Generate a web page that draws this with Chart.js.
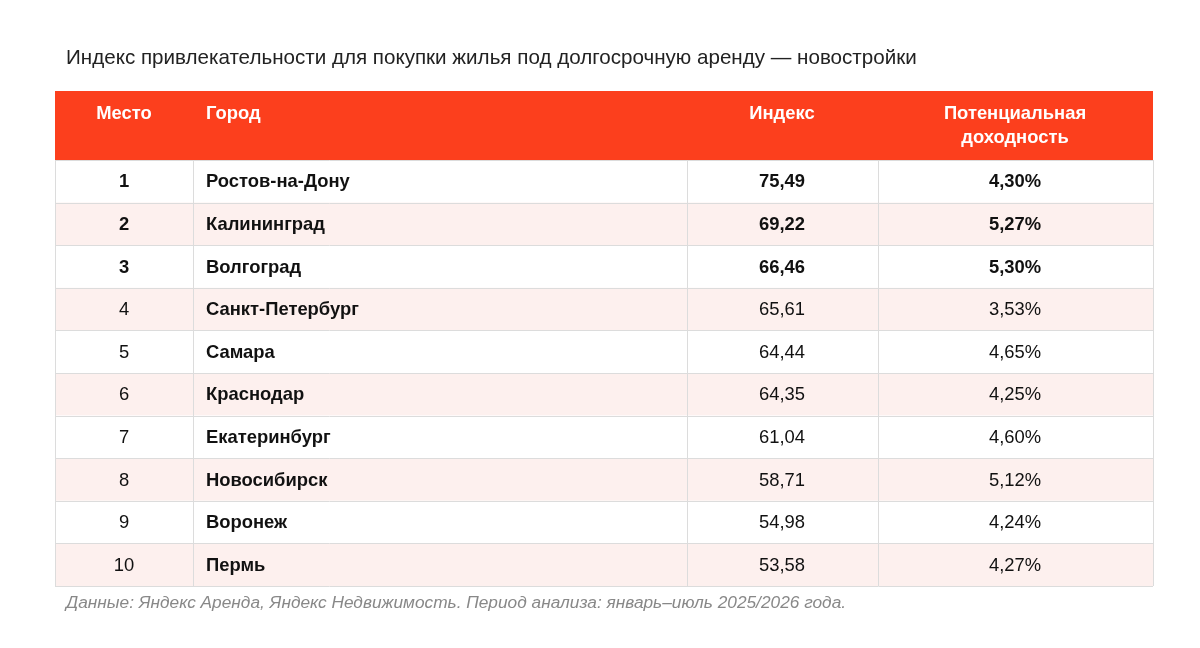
<!DOCTYPE html>
<html><head><meta charset="utf-8">
<script src="https://cdn.jsdelivr.net/npm/chart.js@4"></script>
<style>html,body{margin:0;padding:0;background:#fff}</style>
</head><body>
<canvas id="c" width="1200" height="648"></canvas>
<script>
const titleText = "Индекс привлекательности для покупки жилья под долгосрочную аренду — новостройки";
const footerText = "Данные: Яндекс Аренда, Яндекс Недвижимость. Период анализа: январь–июль 2025/2026 года.";
const headers = ["Место", "Город", "Индекс", ["Потенциальная", "доходность"]];
const places = ["1","2","3","4","5","6","7","8","9","10"];
const cities = ["Ростов-на-Дону","Калининград","Волгоград","Санкт-Петербург","Самара","Краснодар","Екатеринбург","Новосибирск","Воронеж","Пермь"];
const indexValues = [75.49,69.22,66.46,65.61,64.44,64.35,61.04,58.71,54.98,53.58];
const yieldValues = [4.30,5.27,5.30,3.53,4.65,4.25,4.60,5.12,4.24,4.27];
const boldRows = 3;

const fmt = (v,d)=>v.toFixed(d).replace('.',',');
const F = '"Liberation Sans", Arial, sans-serif';

const tablePlugin = {
  id:'table',
  beforeDraw(chart){
    const ctx = chart.ctx, ca = chart.chartArea, y = chart.scales.y;
    const L = ca.left, R = ca.right;
    const cols = [L, 193, 687, 878, R];
    const band = (ca.bottom - ca.top)/cities.length;
    ctx.save();
    ctx.fillStyle='#fff'; ctx.fillRect(0,0,chart.width,chart.height);
    ctx.fillStyle='#222'; ctx.font='20.6px '+F; ctx.textBaseline='middle'; ctx.textAlign='left';
    ctx.fillText(titleText, 66, 58);
    ctx.fillStyle='#fc3f1d'; ctx.fillRect(L, 91, R-L, ca.top-91);
    ctx.fillStyle='#fff'; ctx.font='bold 18.4px '+F;
    ctx.textAlign='center'; ctx.fillText(headers[0], 124, 114);
    ctx.textAlign='left'; ctx.fillText(headers[1], 206, 114);
    ctx.textAlign='center'; ctx.fillText(headers[2], 782, 114);
    ctx.fillText(headers[3][0], 1015, 114); ctx.fillText(headers[3][1], 1015, 138);
    cities.forEach((c,i)=>{
      const cy = y.getPixelForValue(i);
      ctx.fillStyle = i%2 ? '#fdf0ee' : '#fff';
      ctx.fillRect(L, cy - band/2, R-L, band);
    });
    ctx.strokeStyle='#dcdcdc'; ctx.lineWidth=1;
    for(let i=0;i<=cities.length;i++){
      const yy = Math.round(ca.top + i*band)+0.5;
      ctx.beginPath(); ctx.moveTo(L,yy); ctx.lineTo(R,yy); ctx.stroke();
    }
    cols.forEach(x=>{ const xx=Math.round(x)+0.5; ctx.beginPath(); ctx.moveTo(xx,ca.top); ctx.lineTo(xx,ca.bottom); ctx.stroke(); });
    cities.forEach((c,i)=>{
      const cy = y.getPixelForValue(i)+1;
      const b = i<boldRows;
      ctx.fillStyle='#111';
      ctx.font=(b?'bold ':'')+'18.4px '+F; ctx.textAlign='center';
      ctx.fillText(places[i],124,cy);
      ctx.fillText(fmt(indexValues[i],2),782,cy);
      ctx.fillText(fmt(yieldValues[i],2)+'%',1015,cy);
      ctx.font='bold 18.4px '+F; ctx.textAlign='left';
      ctx.fillText(c,206,cy);
    });
    ctx.fillStyle='#888'; ctx.font='italic 17.3px '+F; ctx.textAlign='left';
    ctx.fillText(footerText, 66, 603);
    ctx.restore();
  }
};

new Chart(document.getElementById('c'),{
  type:'bar',
  data:{labels:cities,datasets:[{data:indexValues,backgroundColor:'rgba(0,0,0,0)',borderWidth:0}]},
  options:{
    indexAxis:'y', responsive:false, animation:false, devicePixelRatio:1,
    layout:{padding:{left:55,right:47,top:160,bottom:62}},
    plugins:{legend:{display:false},tooltip:{enabled:false}},
    scales:{x:{display:false,min:0},y:{display:false}}
  },
  plugins:[tablePlugin]
});
</script>
</body></html>
